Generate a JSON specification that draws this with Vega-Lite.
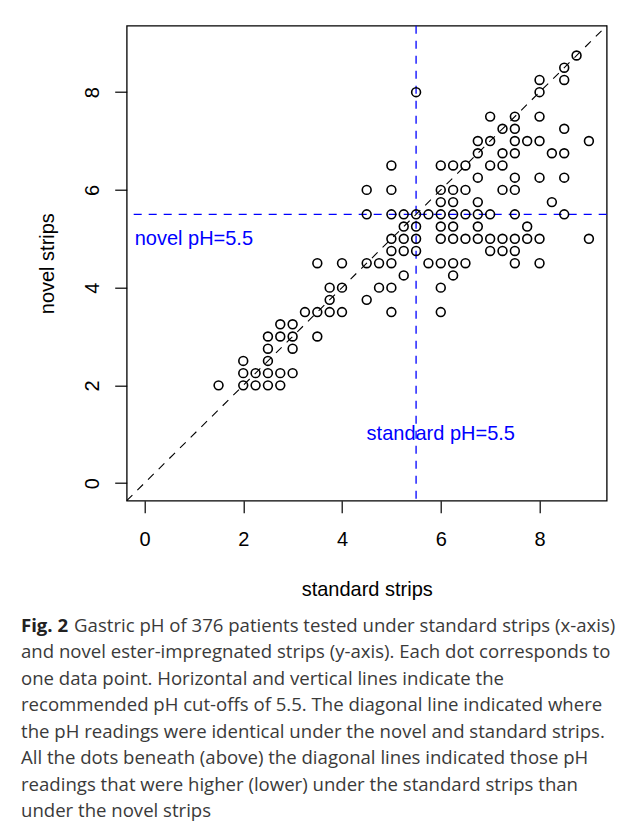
{
  "$schema": "https://vega.github.io/schema/vega-lite/v6.json",
  "width": 480,
  "height": 475,
  "autosize": {"type": "none"},
  "padding": {"left": 126.7, "top": 25.7, "right": 20.3, "bottom": 325},
  "background": "white",
  "config": {
    "font": "Liberation Sans",
    "view": {"stroke": "black", "strokeWidth": 1.3},
    "axis": {
      "grid": false,
      "domain": false,
      "tickColor": "black",
      "tickSize": 12,
      "tickWidth": 1.2,
      "labelFont": "Liberation Sans",
      "labelFontSize": 20,
      "labelColor": "black",
      "labelFlush": false,
      "titleFont": "Liberation Sans",
      "titleFontSize": 20,
      "titleFontWeight": "normal",
      "titleColor": "black"
    }
  },
  "title": {
    "text": "Fig. 2",
    "subtitle": [
      "\u200b\u00a0\u00a0\u00a0\u00a0\u00a0\u00a0\u00a0\u00a0\u00a0\u00a0\u00a0Gastric pH of 376 patients tested under standard strips (x-axis)",
      "and novel ester-impregnated strips (y-axis). Each dot corresponds to",
      "one data point. Horizontal and vertical lines indicate the",
      "recommended pH cut-offs of 5.5. The diagonal line indicated where",
      "the pH readings were identical under the novel and standard strips.",
      "All the dots beneath (above) the diagonal lines indicated those pH",
      "readings that were higher (lower) under the standard strips than",
      "under the novel strips"
    ],
    "orient": "bottom",
    "anchor": "start",
    "frame": "group",
    "dx": -105.7,
    "offset": 17,
    "font": "Open Sans",
    "fontSize": 18.6,
    "fontWeight": "bold",
    "color": "#222222",
    "lineHeight": 26.5,
    "subtitleFont": "Open Sans",
    "subtitleFontSize": 18.6,
    "subtitleFontWeight": "normal",
    "subtitleColor": "#3a3a3a",
    "subtitleLineHeight": 26.5,
    "subtitlePadding": -18.6
  },
  "datasets": {
    "points": [
      {"standard": 8.75, "novel": 8.75},
      {"standard": 8.5, "novel": 8.5},
      {"standard": 8, "novel": 8.25}, {"standard": 8.5, "novel": 8.25},
      {"standard": 5.5, "novel": 8}, {"standard": 8, "novel": 8},
      {"standard": 7, "novel": 7.5}, {"standard": 7.5, "novel": 7.5}, {"standard": 8, "novel": 7.5},
      {"standard": 7.25, "novel": 7.25}, {"standard": 7.5, "novel": 7.25}, {"standard": 8.5, "novel": 7.25},
      {"standard": 6.75, "novel": 7}, {"standard": 7, "novel": 7}, {"standard": 7.5, "novel": 7}, {"standard": 7.75, "novel": 7}, {"standard": 8, "novel": 7}, {"standard": 9, "novel": 7},
      {"standard": 6.75, "novel": 6.75}, {"standard": 7.25, "novel": 6.75}, {"standard": 7.5, "novel": 6.75}, {"standard": 8.25, "novel": 6.75}, {"standard": 8.5, "novel": 6.75},
      {"standard": 5, "novel": 6.5}, {"standard": 6, "novel": 6.5}, {"standard": 6.25, "novel": 6.5}, {"standard": 6.5, "novel": 6.5}, {"standard": 7, "novel": 6.5}, {"standard": 7.25, "novel": 6.5},
      {"standard": 6.75, "novel": 6.25}, {"standard": 7.5, "novel": 6.25}, {"standard": 8, "novel": 6.25}, {"standard": 8.5, "novel": 6.25},
      {"standard": 4.5, "novel": 6}, {"standard": 5, "novel": 6}, {"standard": 6, "novel": 6}, {"standard": 6.25, "novel": 6}, {"standard": 6.5, "novel": 6}, {"standard": 7.25, "novel": 6}, {"standard": 7.5, "novel": 6},
      {"standard": 6, "novel": 5.75}, {"standard": 6.25, "novel": 5.75}, {"standard": 6.75, "novel": 5.75}, {"standard": 8.25, "novel": 5.75},
      {"standard": 4.5, "novel": 5.5}, {"standard": 5, "novel": 5.5}, {"standard": 5.25, "novel": 5.5}, {"standard": 5.5, "novel": 5.5}, {"standard": 5.75, "novel": 5.5}, {"standard": 6, "novel": 5.5}, {"standard": 6.25, "novel": 5.5}, {"standard": 6.5, "novel": 5.5}, {"standard": 6.75, "novel": 5.5}, {"standard": 7, "novel": 5.5}, {"standard": 7.5, "novel": 5.5}, {"standard": 8.5, "novel": 5.5},
      {"standard": 5.25, "novel": 5.25}, {"standard": 5.5, "novel": 5.25}, {"standard": 6, "novel": 5.25}, {"standard": 6.25, "novel": 5.25}, {"standard": 6.75, "novel": 5.25}, {"standard": 7.75, "novel": 5.25},
      {"standard": 5, "novel": 5}, {"standard": 5.25, "novel": 5}, {"standard": 5.5, "novel": 5}, {"standard": 6, "novel": 5}, {"standard": 6.25, "novel": 5}, {"standard": 6.5, "novel": 5}, {"standard": 6.75, "novel": 5}, {"standard": 7, "novel": 5}, {"standard": 7.25, "novel": 5}, {"standard": 7.5, "novel": 5}, {"standard": 7.75, "novel": 5}, {"standard": 8, "novel": 5}, {"standard": 9, "novel": 5},
      {"standard": 5, "novel": 4.75}, {"standard": 5.25, "novel": 4.75}, {"standard": 5.5, "novel": 4.75}, {"standard": 7, "novel": 4.75}, {"standard": 7.25, "novel": 4.75}, {"standard": 7.5, "novel": 4.75},
      {"standard": 3.5, "novel": 4.5}, {"standard": 4, "novel": 4.5}, {"standard": 4.5, "novel": 4.5}, {"standard": 4.75, "novel": 4.5}, {"standard": 5, "novel": 4.5}, {"standard": 5.75, "novel": 4.5}, {"standard": 6, "novel": 4.5}, {"standard": 6.25, "novel": 4.5}, {"standard": 6.5, "novel": 4.5}, {"standard": 7.5, "novel": 4.5}, {"standard": 8, "novel": 4.5},
      {"standard": 5.25, "novel": 4.25}, {"standard": 6.25, "novel": 4.25},
      {"standard": 3.75, "novel": 4}, {"standard": 4, "novel": 4}, {"standard": 4.75, "novel": 4}, {"standard": 5, "novel": 4}, {"standard": 6, "novel": 4},
      {"standard": 3.75, "novel": 3.75}, {"standard": 4.5, "novel": 3.75},
      {"standard": 3.25, "novel": 3.5}, {"standard": 3.5, "novel": 3.5}, {"standard": 3.75, "novel": 3.5}, {"standard": 4, "novel": 3.5}, {"standard": 5, "novel": 3.5}, {"standard": 6, "novel": 3.5},
      {"standard": 2.75, "novel": 3.25}, {"standard": 3, "novel": 3.25},
      {"standard": 2.5, "novel": 3}, {"standard": 2.75, "novel": 3}, {"standard": 3, "novel": 3}, {"standard": 3.5, "novel": 3},
      {"standard": 2.5, "novel": 2.75}, {"standard": 3, "novel": 2.75},
      {"standard": 2, "novel": 2.5}, {"standard": 2.5, "novel": 2.5},
      {"standard": 2, "novel": 2.25}, {"standard": 2.25, "novel": 2.25}, {"standard": 2.5, "novel": 2.25}, {"standard": 2.75, "novel": 2.25}, {"standard": 3, "novel": 2.25},
      {"standard": 1.5, "novel": 2}, {"standard": 2, "novel": 2}, {"standard": 2.25, "novel": 2}, {"standard": 2.5, "novel": 2}, {"standard": 2.75, "novel": 2}
    ]
  },
  "encoding": {
    "x": {
      "type": "quantitative",
      "scale": {"domain": [-0.36, 9.36], "nice": false, "zero": false},
      "axis": {
        "values": [0, 2, 4, 6, 8],
        "title": "standard strips",
        "labelPadding": 17,
        "titleY": 95,
        "titleBaseline": "alphabetic"
      }
    },
    "y": {
      "type": "quantitative",
      "scale": {"domain": [-0.36, 9.36], "nice": false, "zero": false},
      "axis": {
        "values": [0, 2, 4, 6, 8],
        "title": "novel strips",
        "labelAngle": 270,
        "labelAlign": "center",
        "labelBaseline": "alphabetic",
        "labelPadding": 16.5,
        "titleAngle": 270,
        "titleAlign": "center",
        "titleBaseline": "alphabetic",
        "titleX": -73.4,
        "titleY": 237.5
      }
    }
  },
  "layer": [
    {
      "data": {"values": [{}]},
      "mark": {"type": "rule", "color": "#0000ff", "strokeWidth": 1.3, "strokeDash": [8, 7]},
      "encoding": {"y": {"datum": 5.5, "type": "quantitative"}, "x": null}
    },
    {
      "data": {"values": [{}]},
      "mark": {"type": "rule", "color": "#0000ff", "strokeWidth": 1.3, "strokeDash": [8, 7]},
      "encoding": {"x": {"datum": 5.5, "type": "quantitative"}, "y": null}
    },
    {
      "data": {"values": [{}]},
      "mark": {"type": "rule", "color": "black", "strokeWidth": 1.1, "strokeDash": [8, 7]},
      "encoding": {
        "x": {"datum": -0.36, "type": "quantitative"},
        "y": {"datum": -0.36, "type": "quantitative"},
        "x2": {"datum": 9.36},
        "y2": {"datum": 9.36}
      }
    },
    {
      "data": {"name": "points"},
      "mark": {"type": "point", "shape": "circle", "filled": false, "size": 78, "strokeWidth": 1.6, "color": "black", "opacity": 1},
      "encoding": {
        "x": {"field": "standard", "type": "quantitative"},
        "y": {"field": "novel", "type": "quantitative"}
      }
    },
    {
      "data": {"values": [{}]},
      "mark": {"type": "text", "color": "#0000ff", "fontSize": 20, "font": "Liberation Sans", "align": "center", "baseline": "middle"},
      "encoding": {
        "x": {"datum": 1, "type": "quantitative"},
        "y": {"datum": 5, "type": "quantitative"},
        "text": {"value": "novel pH=5.5"}
      }
    },
    {
      "data": {"values": [{}]},
      "mark": {"type": "text", "color": "#0000ff", "fontSize": 20, "font": "Liberation Sans", "align": "center", "baseline": "middle"},
      "encoding": {
        "x": {"datum": 6, "type": "quantitative"},
        "y": {"datum": 1, "type": "quantitative"},
        "text": {"value": "standard pH=5.5"}
      }
    }
  ]
}
